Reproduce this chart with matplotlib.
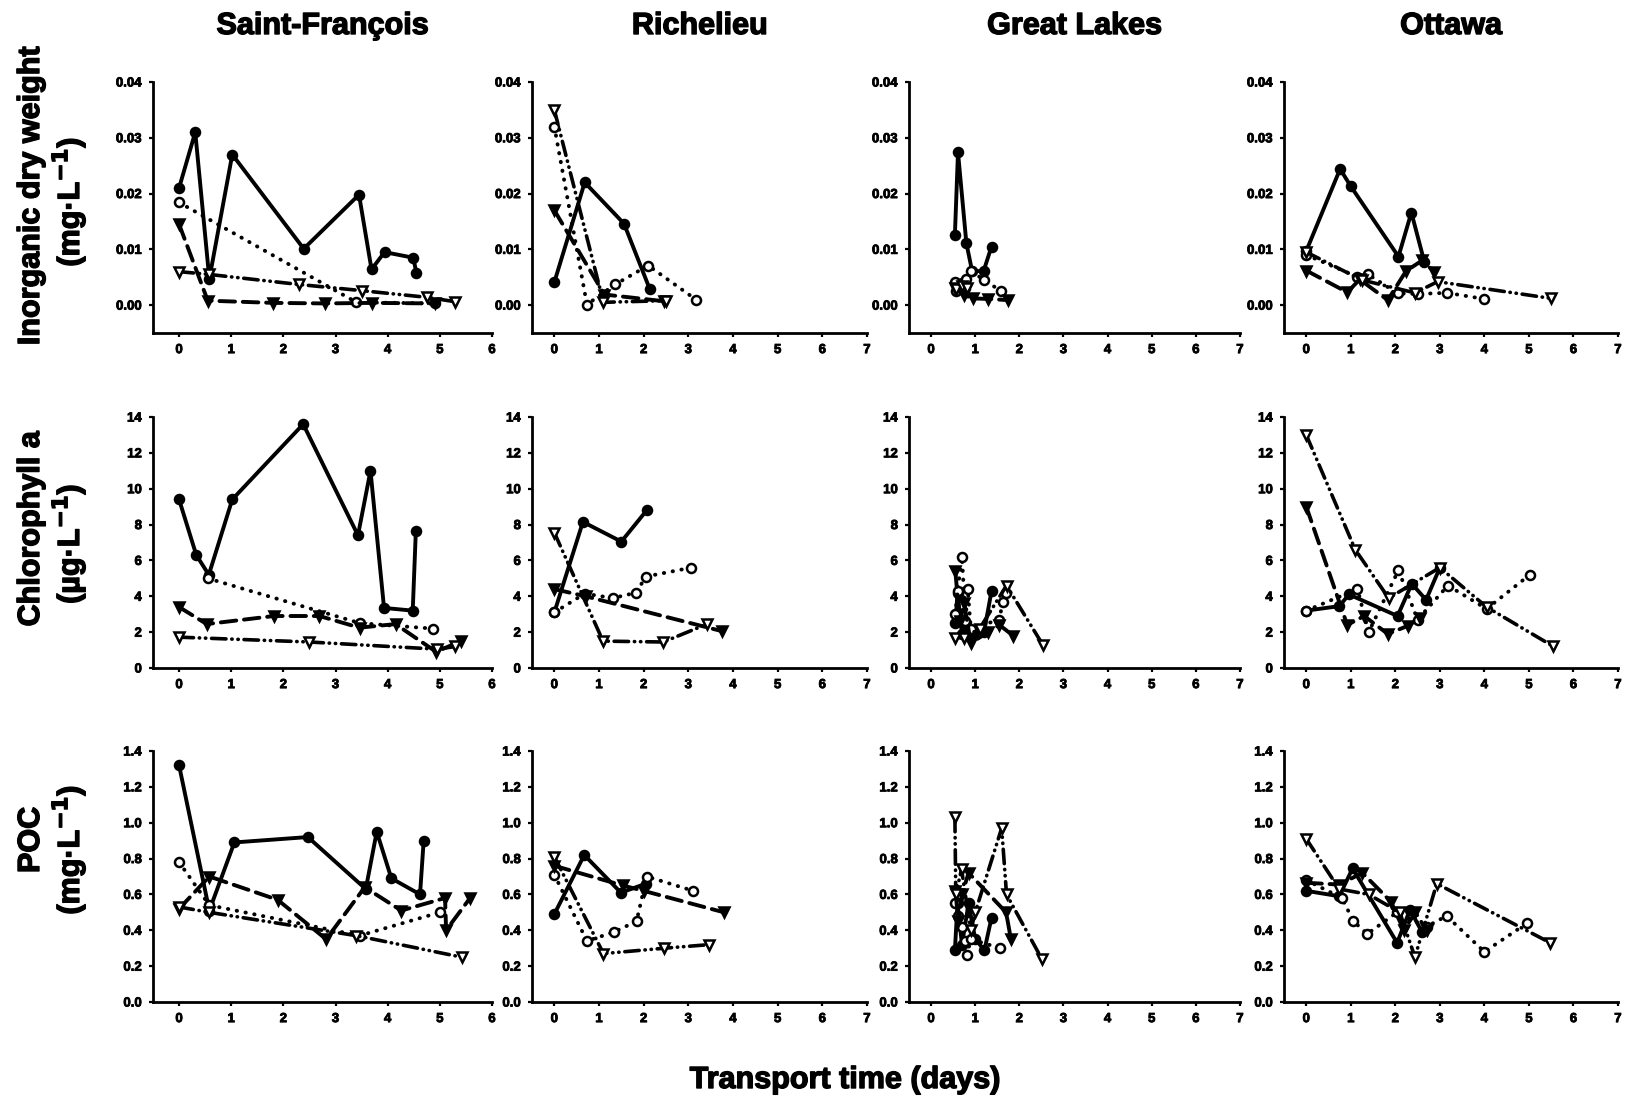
import matplotlib
matplotlib.use("Agg")
import matplotlib.pyplot as plt
import matplotlib.patheffects as pe
from matplotlib.ticker import FormatStrFormatter

plt.rcParams['font.family'] = ['Liberation Sans', 'DejaVu Sans']
plt.rcParams['font.weight'] = 'bold'

rivers = ["Saint-François", "Richelieu", "Great Lakes", "Ottawa"]

# inorganic dry weight (mg/L): (x, y) per series
sf_idw_1 = ([0, 0.31, 0.58, 1.02, 2.39, 3.45, 3.69, 3.94, 4.49, 4.55], [0.021, 0.031, 0.0047, 0.027, 0.0101, 0.0198, 0.0064, 0.0095, 0.0085, 0.0058])
sf_idw_2 = ([0, 3.4, 4.9], [0.0184, 0.0005, 0.0003])
sf_idw_3 = ([0, 0.55, 1.8, 2.8, 3.7, 4.9], [0.0145, 0.0008, 0.0004, 0.0003, 0.0004, 0.0003])
sf_idw_4 = ([0, 0.58, 2.3, 3.5, 4.75, 5.3], [0.006, 0.0055, 0.0037, 0.0026, 0.0014, 0.0006])

ri_idw_1 = ([0, 0.68, 1.56, 2.14], [0.0041, 0.022, 0.0146, 0.0028])
ri_idw_2 = ([0, 0.73, 1.36, 2.1, 3.17], [0.032, 0.0001, 0.0037, 0.0071, 0.001])
ri_idw_3 = ([0, 1.12, 2.45], [0.017, 0.0019, 0.0007])
ri_idw_4 = ([0, 1.1, 2.5], [0.035, 0.0005, 0.0008])

gl_idw_1 = ([0.54, 0.61, 0.8, 0.93, 1.19, 1.37], [0.0126, 0.0274, 0.0111, 0.0061, 0.0061, 0.0105])
gl_idw_2 = ([0.54, 0.56, 0.7, 0.8, 0.91, 1.2, 1.59], [0.0042, 0.0025, 0.0040, 0.0047, 0.0061, 0.0045, 0.0025])
gl_idw_3 = ([0.55, 0.74, 0.96, 1.3, 1.74], [0.003, 0.0018, 0.0012, 0.0011, 0.0009])
gl_idw_4 = ([0.56, 0.7, 0.81], [0.0028, 0.0035, 0.003])

ot_idw_1 = ([0, 0.76, 1.0, 2.07, 2.36, 2.65], [0.0097, 0.0244, 0.0213, 0.0087, 0.0166, 0.0078])
ot_idw_2 = ([0, 1.14, 1.39, 2.05, 2.5, 3.16, 4.0], [0.009, 0.0051, 0.0055, 0.0021, 0.002, 0.0022, 0.0011])
ot_idw_3 = ([0, 0.92, 1.2, 1.83, 2.24, 2.6, 2.87], [0.0062, 0.0023, 0.0046, 0.0009, 0.0061, 0.008, 0.006])
ot_idw_4 = ([0, 1.25, 2.44, 2.95, 5.5], [0.0095, 0.0045, 0.0022, 0.0042, 0.0012])

# chlorophyll a (ug/L)
sf_chl_1 = ([0, 0.33, 0.57, 1.02, 2.38, 3.43, 3.67, 3.93, 4.48, 4.54], [9.4, 6.3, 5.2, 9.4, 13.6, 7.4, 11.0, 3.35, 3.2, 7.65])
sf_chl_2 = ([0.55, 3.47, 4.86], [5.0, 2.5, 2.2])
sf_chl_3 = ([0, 0.53, 1.82, 2.69, 3.46, 4.15, 4.93, 5.4], [3.4, 2.45, 2.9, 2.9, 2.25, 2.45, 0.9, 1.5])
sf_chl_4 = ([0, 2.5, 4.95, 5.3], [1.72, 1.45, 1.05, 1.2])

ri_chl_1 = ([0, 0.64, 1.5, 2.07], [3.1, 8.15, 7.05, 8.8])
ri_chl_2 = ([0, 0.68, 1.31, 1.83, 2.05, 3.07], [3.1, 4.15, 3.9, 4.2, 5.1, 5.6])
ri_chl_3 = ([0, 0.7, 3.76], [4.4, 4.0, 2.05])
ri_chl_4 = ([0, 1.09, 2.44, 3.42], [7.55, 1.5, 1.45, 2.45])

gl_chl_1 = ([0.55, 0.6, 0.7, 0.8, 0.95, 1.2, 1.37], [2.5, 4.2, 1.9, 2.4, 1.9, 2.0, 4.3])
gl_chl_2 = ([0.55, 0.6, 0.7, 0.78, 0.83, 0.9, 1.55, 1.62, 1.7], [3.0, 4.3, 6.2, 2.6, 4.4, 2.2, 2.7, 3.7, 4.2])
gl_chl_3 = ([0.55, 0.65, 0.75, 0.9, 1.3, 1.55, 1.86], [5.4, 2.6, 3.6, 1.4, 2.0, 2.4, 1.8])
gl_chl_4 = ([0.55, 0.75, 1.1, 1.71, 2.53], [1.7, 1.7, 2.2, 4.6, 1.3])

ot_chl_1 = ([0, 0.74, 0.96, 2.05, 2.37, 2.69, 3.0], [3.2, 3.45, 4.1, 2.9, 4.7, 3.8, 5.6])
ot_chl_2 = ([0, 1.15, 1.4, 2.07, 2.5, 3.18, 4.05, 5.02], [3.2, 4.4, 2.0, 5.45, 2.7, 4.6, 3.3, 5.2])
ot_chl_3 = ([0, 0.92, 1.3, 1.83, 2.28, 2.55], [9.0, 2.4, 2.9, 1.9, 2.35, 2.8])
ot_chl_4 = ([0, 1.1, 1.85, 3.0, 4.05, 5.55], [13.0, 6.6, 3.9, 5.6, 3.4, 1.2])

# POC (mg/L)
sf_poc_1 = ([0, 0.58, 1.06, 2.47, 3.58, 3.79, 4.07, 4.62, 4.69], [1.32, 0.51, 0.89, 0.92, 0.63, 0.95, 0.69, 0.6, 0.9])
sf_poc_2 = ([0, 0.58, 3.46, 5.0], [0.78, 0.54, 0.37, 0.5])
sf_poc_3 = ([0, 0.58, 1.89, 2.82, 3.56, 4.26, 5.1, 5.12, 5.58], [0.52, 0.7, 0.57, 0.35, 0.64, 0.51, 0.58, 0.4, 0.58])
sf_poc_4 = ([0, 0.58, 3.4, 5.42], [0.53, 0.5, 0.37, 0.25])

ri_poc_1 = ([0, 0.67, 1.49, 2.05], [0.49, 0.82, 0.61, 0.66])
ri_poc_2 = ([0, 0.73, 1.33, 1.84, 2.07, 3.11], [0.71, 0.34, 0.39, 0.45, 0.7, 0.62])
ri_poc_3 = ([0, 1.53, 2.0, 3.8], [0.76, 0.65, 0.62, 0.5])
ri_poc_4 = ([0, 1.1, 2.46, 3.47], [0.81, 0.27, 0.3, 0.32])

gl_poc_1 = ([0.54, 0.6, 0.7, 0.85, 1.0, 1.21, 1.37], [0.29, 0.55, 0.32, 0.55, 0.35, 0.29, 0.47])
gl_poc_2 = ([0.54, 0.6, 0.7, 0.76, 0.81, 0.9, 1.57], [0.55, 0.48, 0.42, 0.34, 0.26, 0.35, 0.3])
gl_poc_3 = ([0.55, 0.62, 0.7, 0.85, 1.7, 1.81], [0.62, 0.45, 0.6, 0.72, 0.5, 0.35])
gl_poc_4 = ([0.54, 0.56, 0.69, 0.9, 1.0, 1.6, 1.71, 2.51], [1.03, 0.6, 0.74, 0.4, 0.5, 0.97, 0.6, 0.24])

ot_poc_1 = ([0, 0.74, 1.04, 2.04, 2.33, 2.6], [0.62, 0.59, 0.745, 0.33, 0.515, 0.39])
ot_poc_2 = ([0, 0.8, 1.06, 1.37, 2.04, 2.7, 3.15, 4.0, 4.96], [0.68, 0.58, 0.45, 0.38, 0.5, 0.42, 0.48, 0.28, 0.44])
ot_poc_3 = ([0, 0.74, 1.26, 1.9, 2.19, 2.45, 2.7], [0.665, 0.655, 0.72, 0.56, 0.4, 0.5, 0.4])
ot_poc_4 = ([0, 0.74, 1.4, 2.1, 2.44, 2.93, 5.48], [0.91, 0.63, 0.6, 0.5, 0.25, 0.66, 0.33])

panels = [
    [[sf_idw_1, sf_idw_2, sf_idw_3, sf_idw_4], [ri_idw_1, ri_idw_2, ri_idw_3, ri_idw_4],
     [gl_idw_1, gl_idw_2, gl_idw_3, gl_idw_4], [ot_idw_1, ot_idw_2, ot_idw_3, ot_idw_4]],
    [[sf_chl_1, sf_chl_2, sf_chl_3, sf_chl_4], [ri_chl_1, ri_chl_2, ri_chl_3, ri_chl_4],
     [gl_chl_1, gl_chl_2, gl_chl_3, gl_chl_4], [ot_chl_1, ot_chl_2, ot_chl_3, ot_chl_4]],
    [[sf_poc_1, sf_poc_2, sf_poc_3, sf_poc_4], [ri_poc_1, ri_poc_2, ri_poc_3, ri_poc_4],
     [gl_poc_1, gl_poc_2, gl_poc_3, gl_poc_4], [ot_poc_1, ot_poc_2, ot_poc_3, ot_poc_4]],
]

# line styles of the four series
styles = [
    dict(ls='-', marker='o', mfc='black', lw=2.8),
    dict(ls=(0, (0.1, 2.2)), marker='o', mfc='white', lw=2.8),
    dict(ls=(0, (4, 2)), marker='v', mfc='black', lw=2.8),
    dict(ls=(0, (4, 1.6, 0.1, 1.6, 0.1, 1.6)), marker='v', mfc='white', lw=2.6),
]

W, H = 1626, 1101
fig = plt.figure(figsize=(W / 100, H / 100), dpi=100)

col_left = [153, 532, 909, 1284]
col_width = [339, 335, 331, 334]
row_top = [82, 417, 751]
row_h = 251

ylims = [(-0.005, 0.04), (0, 14), (0, 1.4)]
yticks = [[0, 0.01, 0.02, 0.03, 0.04], list(range(0, 15, 2)), [0, 0.2, 0.4, 0.6, 0.8, 1.0, 1.2, 1.4]]
yfmt = ['%.2f', '%d', '%.1f']

heavy = [pe.withStroke(linewidth=1.0, foreground='black')]
heavy_small = [pe.withStroke(linewidth=0.6, foreground='black')]

for r in range(3):
    for c in range(4):
        ax = fig.add_axes([col_left[c] / W, 1 - (row_top[r] + row_h) / H, col_width[c] / W, row_h / H])
        for (x, y), st in zip(panels[r][c], styles):
            ax.plot(x, y, color='black', linestyle=st['ls'], lw=st['lw'],
                    marker=st['marker'], markersize=6.5, mfc=st['mfc'], mec='black', mew=1.8,
                    dash_capstyle='round', solid_joinstyle='round')
        xmax = 6 if c == 0 else 7
        ax.set_xlim(-0.5, xmax)
        ax.set_xticks(range(0, xmax + 1))
        ax.set_ylim(*ylims[r])
        ax.set_yticks(yticks[r])
        ax.yaxis.set_major_formatter(FormatStrFormatter(yfmt[r]))
        for s in ['top', 'right']:
            ax.spines[s].set_visible(False)
        for s in ['left', 'bottom']:
            ax.spines[s].set_linewidth(2.0)
        ax.tick_params(direction='out', length=3, width=1.6, labelsize=9.5, pad=5)
        for lab in ax.get_xticklabels() + ax.get_yticklabels():
            lab.set_fontweight('bold')
            lab.set_path_effects(heavy_small)

for c in range(4):
    fig.text((col_left[c] + col_width[c] / 2) / W, 1 - 26 / H, rivers[c],
             ha='center', va='center', fontsize=22, fontweight='bold', path_effects=heavy)

ylab = [("Inorganic dry weight", 196, "(mg·L$^{\\mathbf{-1}}$)", 202),
        ("Chlorophyll a", 529, "(µg·L$^{\\mathbf{-1}}$)", 544),
        ("POC", 840, "(mg·L$^{\\mathbf{-1}}$)", 850)]
for t1, y1, t2, y2 in ylab:
    fig.text(31 / W, 1 - y1 / H, t1, rotation=90, ha='center', va='center', fontsize=22,
             fontweight='bold', path_effects=heavy)
    fig.text(69 / W, 1 - y2 / H, t2, rotation=90, ha='center', va='center', fontsize=22,
             fontweight='bold', path_effects=heavy)

fig.text(845 / W, 1 - 1080 / H, "Transport time (days)", ha='center', va='center', fontsize=22,
         fontweight='bold', path_effects=heavy)

fig.savefig("out.png", dpi=100)
